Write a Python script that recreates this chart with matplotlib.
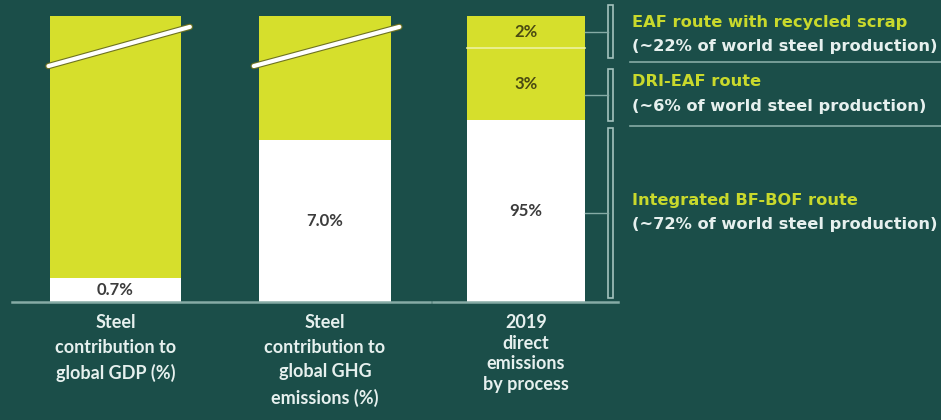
import matplotlib
matplotlib.use("Agg")
import matplotlib.pyplot as plt
import matplotlib.patheffects as pe
from matplotlib.patches import Rectangle
from matplotlib.lines import Line2D

# ---------------- data ----------------
categories = ["Steel\ncontribution to\nglobal GDP (%)",
              "Steel\ncontribution to\nglobal GHG\nemissions (%)",
              "2019\ndirect\nemissions\nby process"]
# steel share bars: label values and drawn height (% of bar height)
steel_share_labels = ["0.7%", "7.0%"]
steel_share_drawn = [8.4, 56.6]
# emissions by process (bottom to top)
process_labels = ["95%", "3%", "2%"]
process_drawn = [63.6, 25.2, 11.2]
route_names = ["Integrated BF-BOF route", "DRI-EAF route", "EAF route with recycled scrap"]
route_notes = ["(~72% of world steel production)", "(~6% of world steel production)",
               "(~22% of world steel production)"]

# ---------------- style ----------------
BG = "#1b4e49"
YEL = "#d6df2c"
WHITE = "#ffffff"
LIGHT = "#e6f0ee"
LINE = "#86aba5"
FONT = ["Lato", "DejaVu Sans"]
RFONT = ["DejaVu Sans"]

W, H = 941, 420
fig = plt.figure(figsize=(W / 100, H / 100), dpi=100, facecolor=BG)

def fx(px):
    return px / W

def fy(py):
    return 1 - py / H

ax = fig.add_axes([fx(12), fy(302), 606 / W, 286 / H])
ax.set_facecolor(BG)
for s in ax.spines.values():
    s.set_visible(False)
ax.set_xticks([])
ax.set_yticks([])

xpos = [0, 1, 1.96]
widths = [0.625, 0.63, 0.563]
ax.set_xlim(-0.494, -0.494 + 606 / 209.5)
ax.set_ylim(0, 100)

# steel share bars with axis break
for i in range(2):
    h = steel_share_drawn[i]
    ax.bar(xpos[i], h, widths[i], color=WHITE, linewidth=0)
    ax.bar(xpos[i], 100 - h, widths[i], bottom=h, color=YEL, linewidth=0)
    ax.text(xpos[i], h / 2, steel_share_labels[i], ha="center", va="center",
            color="#3c3c3c", fontsize=12, fontweight="bold", family=FONT)
    off = -0.32 if i == 0 else -0.34
    ax.plot([xpos[i] + off, xpos[i] + 0.355], [82.5, 96.2], color=WHITE, lw=3.0,
            solid_capstyle="round", clip_on=False,
            path_effects=[pe.Stroke(linewidth=4.6, foreground="#6e7222"), pe.Normal()])

# process bar
colors3 = [WHITE, YEL, YEL]
txtc3 = ["#3c3c3c", "#4a4a12", "#4a4a12"]
bottom = 0
for j, h in enumerate(process_drawn):
    ax.bar(xpos[2], h, widths[2], bottom=bottom, color=colors3[j], linewidth=0)
    ax.text(xpos[2], bottom + h / 2, process_labels[j], ha="center", va="center",
            color=txtc3[j], fontsize=12, fontweight="bold", family=FONT)
    bottom += h
sep = process_drawn[0] + process_drawn[1]
ax.plot([xpos[2] - widths[2] / 2, xpos[2] + widths[2] / 2], [sep, sep],
        color="#eef2a0", lw=1.2)

# baseline
ax.plot([0, 418 / 606], [0, 0], transform=ax.transAxes, color=LINE, lw=1.8, clip_on=False)
ax.plot([421 / 606, 1], [0, 0], transform=ax.transAxes, color=LINE, lw=1.8, clip_on=False)

# category labels
spacing = [1.55, 1.55, 1.25]
for i, c in enumerate(categories):
    ax.text(xpos[i], -4.2, c, ha="center", va="top", color=LIGHT, fontsize=13,
            fontweight="bold", family=FONT, linespacing=spacing[i])

# brackets, connectors and route labels
brackets = [(128, 298), (69, 121), (5, 58)]
for (t, b) in brackets:
    fig.add_artist(Rectangle((fx(608), fy(b)), 5 / W, (b - t) / H, transform=fig.transFigure,
                             facecolor="none", edgecolor="#a3c2bd", lw=1.2))
    yc = (t + b) / 2
    fig.add_artist(Line2D([fx(585), fx(608)], [fy(yc), fy(yc)], transform=fig.transFigure,
                          color=LINE, lw=1))

name_y = [200, 82, 22]
note_y = [224, 107, 46]
for k in range(3):
    fig.text(fx(632), fy(name_y[k]), route_names[k], color="#c9d92c", fontsize=11.7,
             fontweight="bold", family=RFONT, ha="left", va="center")
    fig.text(fx(632), fy(note_y[k]), route_notes[k], color=LIGHT, fontsize=11.7,
             fontweight="bold", family=RFONT, ha="left", va="center")

for yy in [62, 126]:
    fig.add_artist(Line2D([fx(630), fx(941)], [fy(yy), fy(yy)], transform=fig.transFigure,
                          color=LINE, lw=1.2))

fig.savefig("out.png", dpi=100, facecolor=BG)
